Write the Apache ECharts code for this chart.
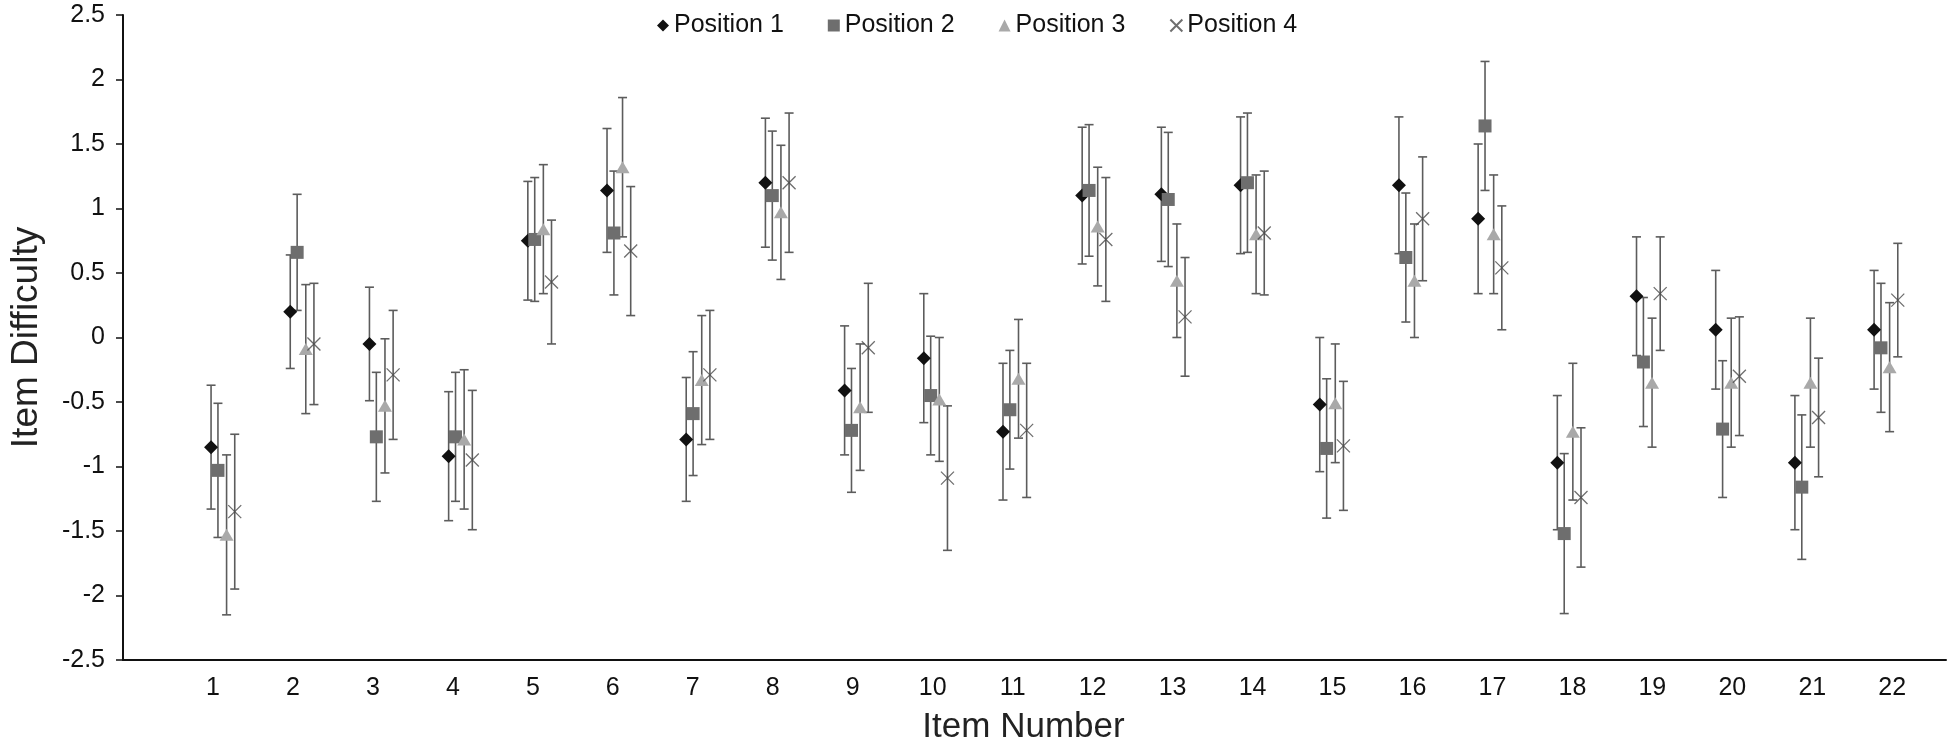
<!DOCTYPE html>
<html>
<head>
<meta charset="utf-8">
<script src="https://cdn.jsdelivr.net/npm/echarts@6/dist/echarts.min.js"></script>
<style>
html,body{margin:0;padding:0;background:#fff;}
#chart{width:1949px;height:750px;}
</style>
</head>
<body>
<div id="chart"></div>
<script>
// ---- data ----
const items = [1,2,3,4,5,6,7,8,9,10,11,12,13,14,15,16,17,18,19,20,21,22];
const seriesNames = ['Position 1','Position 2','Position 3','Position 4'];
const pos1    = [-0.85, 0.20,-0.05,-0.92, 0.75, 1.14,-0.79, 1.20,-0.41,-0.16,-0.73, 1.10, 1.11, 1.18,-0.52, 1.18, 0.92,-0.97, 0.32, 0.06,-0.97, 0.06];
const pos1Err = [ 0.48, 0.44, 0.44, 0.50, 0.46, 0.48, 0.48, 0.50, 0.50, 0.50, 0.53, 0.53, 0.52, 0.53, 0.52, 0.53, 0.58, 0.52, 0.46, 0.46, 0.52, 0.46];
const pos2    = [-1.03, 0.66,-0.77,-0.77, 0.76, 0.81,-0.59, 1.10,-0.72,-0.45,-0.56, 1.14, 1.07, 1.20,-0.86, 0.62, 1.64,-1.52,-0.19,-0.71,-1.16,-0.08];
const pos2Err = [ 0.52, 0.45, 0.50, 0.50, 0.48, 0.48, 0.48, 0.50, 0.48, 0.46, 0.46, 0.51, 0.52, 0.54, 0.54, 0.50, 0.50, 0.62, 0.50, 0.53, 0.56, 0.50];
const pos3    = [-1.53,-0.09,-0.53,-0.79, 0.84, 1.32,-0.33, 0.97,-0.54,-0.48,-0.32, 0.86, 0.44, 0.80,-0.51, 0.44, 0.80,-0.73,-0.35,-0.35,-0.35,-0.23];
const pos3Err = [ 0.62, 0.50, 0.52, 0.54, 0.50, 0.54, 0.50, 0.52, 0.49, 0.48, 0.46, 0.46, 0.44, 0.46, 0.46, 0.44, 0.46, 0.53, 0.50, 0.50, 0.50, 0.50];
const pos4    = [-1.35,-0.05,-0.29,-0.95, 0.43, 0.67,-0.29, 1.20,-0.08,-1.09,-0.72, 0.76, 0.16, 0.81,-0.84, 0.92, 0.54,-1.24, 0.34,-0.30,-0.62, 0.29];
const pos4Err = [ 0.60, 0.47, 0.50, 0.54, 0.48, 0.50, 0.50, 0.54, 0.50, 0.56, 0.52, 0.48, 0.46, 0.48, 0.50, 0.48, 0.48, 0.54, 0.44, 0.46, 0.46, 0.44];
const yTicks = [-2.5,-2,-1.5,-1,-0.5,0,0.5,1,1.5,2,2.5];

// ---- styling ----
const values = [pos1,pos2,pos3,pos4];
const errs = [pos1Err,pos2Err,pos3Err,pos4Err];
const offsets = [-0.146,-0.059,0.05,0.153];
const symbols = ['diamond','rect','triangle','path://M0,0L10,10M10,0L0,10'];
const sizes = [14,13,[14,12],13];
const colors = ['#111111','#6e6e6e','#a9a9a9','#4a4a4a'];
const barColor = '#5c5c5c';
const font = 'Liberation Sans, Arial, sans-serif';

function errRender(params, api){
  const x = api.value(0), lo = api.value(1), hi = api.value(2);
  const t = api.coord([x,hi]), b = api.coord([x,lo]);
  const cap = 4.5;
  const st = {stroke: barColor, lineWidth: 1.6};
  return {type:'group', children:[
    {type:'line', shape:{x1:t[0],y1:t[1],x2:b[0],y2:b[1]}, style:st},
    {type:'line', shape:{x1:t[0]-cap,y1:t[1],x2:t[0]+cap,y2:t[1]}, style:st},
    {type:'line', shape:{x1:b[0]-cap,y1:b[1],x2:b[0]+cap,y2:b[1]}, style:st}
  ]};
}

const series = [];
for (let s=0; s<4; s++){
  series.push({
    type:'custom', name:'err'+s, xAxisIndex:1, yAxisIndex:0, z:2,
    renderItem: errRender,
    encode:{x:0, y:[1,2]},
    data: items.map((it,i)=>[it+offsets[s], values[s][i]-errs[s][i], values[s][i]+errs[s][i]]),
    silent:true
  });
}
for (let s=0; s<4; s++){
  const isX = s===3;
  series.push({
    type:'scatter', name:seriesNames[s], xAxisIndex:1, yAxisIndex:0, z:3,
    symbol:symbols[s], symbolSize:sizes[s],
    itemStyle: isX ? {color:'rgba(0,0,0,0)', borderColor:colors[s], borderWidth:1.3}
                   : {color:colors[s], opacity:1},
    data: items.map((it,i)=>[it+offsets[s], values[s][i]])
  });
}

const chart = echarts.init(document.getElementById('chart'), null, {renderer:'canvas'});
chart.setOption({
  animation:false,
  backgroundColor:'#ffffff',
  textStyle:{fontFamily:font},
  grid:{left:112, right:3, top:15, bottom:90, containLabel:false},
  legend:{
    data:seriesNames, top:8, left:652, itemGap:44, itemWidth:12, itemHeight:12,
    textStyle:{fontSize:25, color:'#111', fontFamily:font}
  },
  xAxis:[{
    type:'value', min:-0.125, max:22.672, position:'bottom',
    name:'Item Number', nameLocation:'middle', nameGap:50,
    nameTextStyle:{fontSize:35, color:'#222', fontFamily:font, verticalAlign:'top', padding:[0,22,0,0]},
    axisLine:{show:true, onZero:false, lineStyle:{color:'#111', width:2}},
    axisTick:{show:false},
    splitLine:{show:false},
    axisLabel:{customValues:items, fontSize:25, color:'#111', margin:16, fontFamily:font}
  },{
    type:'value', min:-0.258, max:22.762, show:false,
    axisLine:{onZero:false},
    splitLine:{show:false}
  }],
  yAxis:[{
    type:'value', min:-2.5, max:2.5, interval:0.5,
    name:'Item Difficulty', nameLocation:'middle', nameGap:78, nameRotate:90,
    nameTextStyle:{fontSize:37, color:'#222', fontFamily:font},
    axisLine:{show:true, onZero:false, lineStyle:{color:'#111', width:2}},
    axisTick:{show:true, inside:false, length:7, lineStyle:{color:'#111', width:1.5}, customValues:yTicks},
    splitLine:{show:false},
    axisLabel:{fontSize:25, color:'#111', margin:18, fontFamily:font, customValues:yTicks}
  }],
  series: series
});
</script>
</body>
</html>
